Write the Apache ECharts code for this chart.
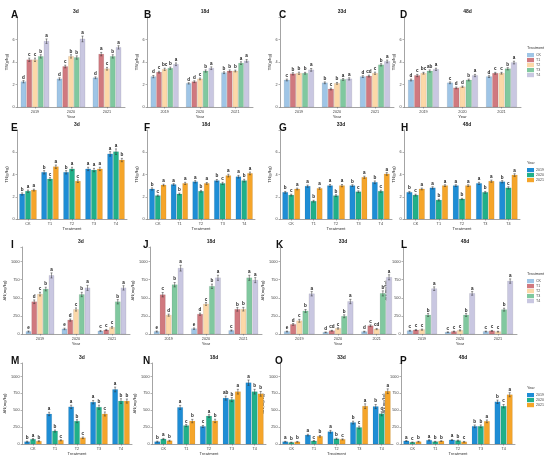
<!DOCTYPE html>
<html><head><meta charset="utf-8">
<script src="https://cdn.jsdelivr.net/npm/echarts@6/dist/echarts.min.js"></script>
<style>html,body{margin:0;padding:0;background:#fff}#c{width:550px;height:458px}</style>
</head><body><div id="c"></div>
<script>
const treatments = ['CK','T1','T2','T3','T4'];
const years = ['2019','2020','2021'];
const periods = ['3d','18d','33d','48d'];
const tnTicks = [0,2,4,6];
const anTicks = [0,250,500,750,1000];

// values indexed [year][treatment]
const tn3d  = [[2.25,4.2,4.2,4.5,5.85],[2.5,3.6,4.5,4.4,6.05],[2.6,4.7,3.4,4.5,5.3]];
const tn18d = [[2.7,3.1,3.35,3.45,3.8],[2.1,2.25,2.5,3.2,3.45],[3.05,3.2,3.2,3.9,4.1]];
const tn33d = [[2.4,2.95,3.0,3.0,3.3],[2.15,1.6,2.1,2.45,2.5],[2.7,2.75,3.0,3.75,4.05]];
const tn48d = [[2.4,2.8,3.0,3.2,3.35],[2.15,1.7,1.8,2.4,2.8],[2.7,3.0,3.0,3.4,3.95]];
const tn3dErr  = [[0.1,0.15,0.15,0.15,0.2],[0.1,0.12,0.15,0.15,0.25],[0.08,0.15,0.12,0.15,0.15]];
const tn18dErr = [[0.1,0.08,0.1,0.1,0.12],[0.06,0.08,0.08,0.1,0.12],[0.08,0.1,0.08,0.12,0.12]];
const tn33dErr = [[0.08,0.1,0.1,0.08,0.12],[0.08,0.08,0.08,0.08,0.1],[0.08,0.08,0.1,0.1,0.12]];
const tn48dErr = [[0.08,0.1,0.08,0.1,0.1],[0.08,0.08,0.06,0.08,0.1],[0.08,0.08,0.08,0.1,0.12]];

const an3d  = [[34,445,550,620,808],[70,192,338,545,636],[41,55,92,445,636]];
const an18d = [[34,542,260,680,908],[73,273,414,658,775],[48,340,342,775,743]];
const an33d = [[34,132,182,318,555],[23,45,77,245,448],[32,114,68,560,782]];
const an48d = [[45,55,60,262,625],[25,34,50,262,560],[34,43,32,336,730]];
const an3dErr  = [[8,25,25,25,35],[10,15,22,30,35],[8,8,12,30,30]];
const an18dErr = [[8,30,15,30,40],[10,15,20,30,35],[8,25,25,35,35]];
const an33dErr = [[6,12,20,20,30],[5,6,10,20,30],[6,12,8,35,35]];
const an48dErr = [[6,8,8,20,25],[5,6,8,20,25],[6,6,6,20,30]];

// significance letters within year [year][treatment]
const tn3dLetY  = [['d','c','c','b','a'],['d','c','b','b','a'],['d','a','c','b','a']];
const tn18dLetY = [['d','c','bc','b','a'],['d','d','c','b','a'],['b','b','b','a','a']];
const tn33dLetY = [['c','b','b','b','a'],['b','c','b','a','a'],['d','cd','c','b','a']];
const tn48dLetY = [['d','c','bc','ab','a'],['c','d','d','b','a'],['d','c','c','b','a']];
const an3dLetY  = [['e','d','c','b','a'],['e','d','c','b','a'],['c','c','c','b','a']];
const an18dLetY = [['e','c','d','b','a'],['e','d','c','b','a'],['c','b','b','a','a']];
const an33dLetY = [['e','d','c','b','a'],['d','cd','c','b','a'],['d','c','cd','b','a']];
const an48dLetY = [['c','c','c','b','a'],['c','c','c','b','a'],['c','c','c','b','a']];
// significance letters within treatment [treatment][year]
const tn3dLetT  = [['b','a','a'],['b','c','a'],['b','a','c'],['a','a','a'],['a','a','b']];
const tn18dLetT = [['b','c','a'],['a','b','a'],['a','b','a'],['b','c','a'],['a','b','a']];
const tn33dLetT = [['b','c','a'],['a','b','a'],['a','b','a'],['b','c','a'],['b','c','a']];
const tn48dLetT = [['b','c','a'],['a','b','a'],['a','b','a'],['a','b','a'],['b','c','a']];
const an3dLetT  = [['b','a','b'],['a','b','c'],['a','b','c'],['a','b','c'],['a','b','b']];
const an18dLetT = [['b','a','b'],['a','c','b'],['c','a','b'],['ab','b','a'],['a','b','b']];
const an33dLetT = [['a','b','b'],['a','c','b'],['a','b','c'],['b','c','a'],['b','c','a']];
const an48dLetT = [['a','c','b'],['a','b','b'],['a','b','c'],['b','b','a'],['b','c','a']];

const trtColors = ['#9fc5e6','#d0797f','#fcd8a8','#80c89f','#c9c7e1'];
const yearColors = ['#1e8dd5','#20b089','#f5a52a'];
const FONT = 'Liberation Sans, Arial, sans-serif';

const rowTops = [17,130,247,363];
const rowBottoms = [107,219,334,444];
const colLefts = [[17,147,280,404],[17,147,280,404],[22,150,280,403],[22,152,280,401]];
const colWidths = [[108,106,114,117],[110,108,112,116],[108,112,116,114],[110,114,113,114]];
const letterX = [[6,139,274,395],[6,139,274,396],[6,138,271,396],[6,138,270,395]];
const panelLetters = [['A','B','C','D'],['E','F','G','H'],['I','J','K','L'],['M','N','O','P']];

const tnVals = [tn3d,tn18d,tn33d,tn48d], tnErrs = [tn3dErr,tn18dErr,tn33dErr,tn48dErr];
const anVals = [an3d,an18d,an33d,an48d], anErrs = [an3dErr,an18dErr,an33dErr,an48dErr];
const tnLY = [tn3dLetY,tn18dLetY,tn33dLetY,tn48dLetY], tnLT = [tn3dLetT,tn18dLetT,tn33dLetT,tn48dLetT];
const anLY = [an3dLetY,an18dLetY,an33dLetY,an48dLetY], anLT = [an3dLetT,an18dLetT,an33dLetT,an48dLetT];

const grids = [], xAxes = [], yAxes = [], series = [], titles = [];

function makeRender(k, n, letters, color) {
  return function (params, api) {
    const ci = api.value(0), v = api.value(1), e = api.value(2);
    const top = api.coord([ci, v]);
    const base = api.coord([ci, 0]);
    const bw = api.size([1, 0])[0];
    const gw = bw * 0.8;
    const barW = gw / n;
    const x = top[0] - gw / 2 + k * barW;
    const cx = x + barW / 2;
    const eT = api.coord([ci, v + e])[1];
    const eB = api.coord([ci, v - e])[1];
    const cap = barW * 0.35;
    return {
      type: 'group',
      children: [
        { type: 'rect', shape: { x: x + 0.35, y: top[1], width: barW - 0.7, height: base[1] - top[1] },
          style: { fill: color, stroke: 'rgba(0,0,0,0.18)', lineWidth: 0.4 } },
        { type: 'line', shape: { x1: cx, y1: eT, x2: cx, y2: eB }, style: { stroke: '#333', lineWidth: 0.5 } },
        { type: 'line', shape: { x1: cx - cap / 2, y1: eT, x2: cx + cap / 2, y2: eT }, style: { stroke: '#333', lineWidth: 0.5 } },
        { type: 'line', shape: { x1: cx - cap / 2, y1: eB, x2: cx + cap / 2, y2: eB }, style: { stroke: '#333', lineWidth: 0.5 } },
        { type: 'text', style: { x: cx, y: eT - 0.8, text: letters[params.dataIndex], fill: '#222',
          font: 'bold 4.6px ' + FONT, textAlign: 'center', textVerticalAlign: 'bottom' } }
      ]
    };
  };
}

let gi = 0;
for (let r = 0; r < 4; r++) {
  const isTN = r < 2;
  const byYear = (r % 2 === 0); // rows 1,3: x = year, series = treatment
  for (let c = 0; c < 4; c++) {
    const vals = isTN ? tnVals[c] : anVals[c];
    const errs = isTN ? tnErrs[c] : anErrs[c];
    const left = colLefts[r][c], width = colWidths[r][c];
    const top = rowTops[r], height = rowBottoms[r] - rowTops[r];
    grids.push({ left, top, width, height, containLabel: false });
    xAxes.push({
      type: 'category', gridIndex: gi, data: byYear ? years : treatments,
      name: byYear ? 'Year' : 'Treatment', nameLocation: 'middle', nameGap: 6,
      nameTextStyle: { fontSize: 4.2, color: '#333', fontFamily: FONT },
      axisLine: { lineStyle: { color: '#666', width: 0.6 } },
      axisTick: { show: true, alignWithLabel: true, length: 1.5, lineStyle: { color: '#666', width: 0.5 } },
      axisLabel: { fontSize: 3.8, color: '#444', margin: 2.5, fontFamily: FONT }
    });
    const ticks = isTN ? tnTicks : anTicks;
    yAxes.push({
      type: 'value', gridIndex: gi, min: 0, max: isTN ? 8 : 1200, interval: isTN ? 2 : 250,
      scale: false,
      name: isTN ? 'TN(g/kg)' : 'AN(mg/kg)', nameLocation: 'middle', nameGap: isTN ? 8 : 12,
      nameTextStyle: { fontSize: 4.2, color: '#333', fontFamily: FONT },
      splitLine: { show: false },
      axisLine: { show: true, lineStyle: { color: '#666', width: 0.6 } },
      axisTick: { show: true, length: 1.5, lineStyle: { color: '#666', width: 0.5 } },
      axisLabel: { fontSize: 3.8, color: '#444', margin: 2.5, fontFamily: FONT,
        formatter: (function (tk) { return function (val) { return tk.indexOf(val) >= 0 ? String(val) : ''; }; })(ticks) }
    });
    if (byYear) {
      const LY = isTN ? tnLY[c] : anLY[c];
      for (let t = 0; t < 5; t++) {
        const data = years.map((y, yi) => [yi, vals[yi][t], errs[yi][t]]);
        const letters = years.map((y, yi) => LY[yi][t]);
        series.push({ type: 'custom', name: treatments[t], xAxisIndex: gi, yAxisIndex: gi,
          encode: { x: 0, y: 1 },
          itemStyle: { color: trtColors[t] }, data, renderItem: makeRender(t, 5, letters, trtColors[t]), silent: true });
      }
    } else {
      const LT = isTN ? tnLT[c] : anLT[c];
      for (let yi = 0; yi < 3; yi++) {
        const data = treatments.map((t, ti) => [ti, vals[yi][ti], errs[yi][ti]]);
        const letters = treatments.map((t, ti) => LT[ti][yi]);
        series.push({ type: 'custom', name: years[yi], xAxisIndex: gi, yAxisIndex: gi,
          encode: { x: 0, y: 1 },
          itemStyle: { color: yearColors[yi] }, data, renderItem: makeRender(yi, 3, letters, yearColors[yi]), silent: true });
      }
    }
    titles.push({ text: periods[c], left: left + width / 2, top: top - 13, textAlign: 'center',
      textStyle: { fontSize: 5, fontWeight: 'bold', color: '#222', fontFamily: FONT } });
    titles.push({ text: panelLetters[r][c], left: letterX[r][c], top: top - 12,
      textStyle: { fontSize: 10, fontWeight: 'bold', color: '#111', fontFamily: FONT } });
    gi++;
  }
}

const legendTops = [53, 168, 279, 393];
const legends = [];
for (let r = 0; r < 4; r++) {
  const byYear = (r % 2 === 0);
  titles.push({ text: byYear ? 'Treatment' : 'Year', left: 527, top: legendTops[r] - 7, padding: 0,
    textStyle: { fontSize: 3.8, color: '#333', fontWeight: 'normal', fontFamily: FONT } });
  legends.push({ data: byYear ? treatments : years, orient: 'vertical', left: 527, top: legendTops[r],
    icon: 'rect', itemWidth: 7, itemHeight: 4.2, itemGap: 0.8, padding: 0, selectedMode: false,
    textStyle: { fontSize: 3.6, color: '#444', padding: [0,0,0,-3], fontFamily: FONT } });
}

const chart = echarts.init(document.getElementById('c'), null, { renderer: 'canvas' });
chart.setOption({
  animation: false,
  backgroundColor: '#fff',
  title: titles,
  legend: legends,
  grid: grids,
  xAxis: xAxes,
  yAxis: yAxes,
  series: series
});
</script></body></html>
